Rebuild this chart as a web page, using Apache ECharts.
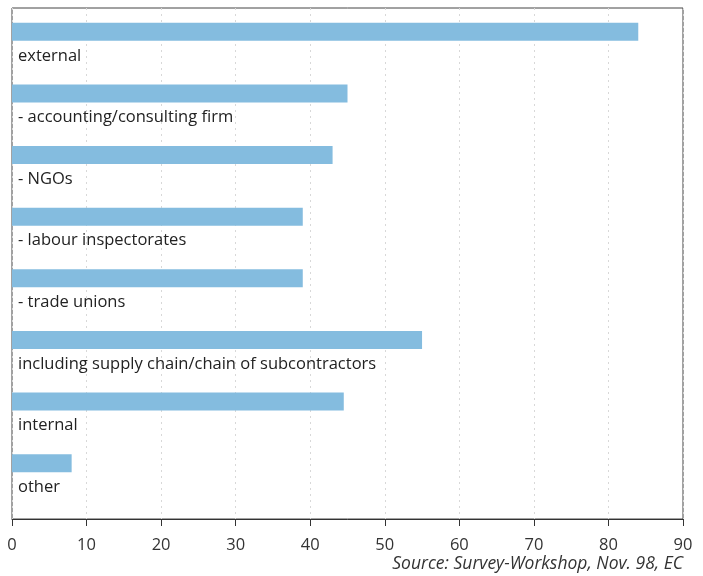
<!DOCTYPE html>
<html><head><meta charset="utf-8">
<script src="https://cdn.jsdelivr.net/npm/echarts@6/dist/echarts.min.js"></script>
<style>html,body{margin:0;padding:0;background:#fff}#c{width:703px;height:576px}</style>
</head><body><div id="c"></div>
<script>
var categories = ["external", "- accounting/consulting firm", "- NGOs", "- labour inspectorates", "- trade unions", "including supply chain/chain of subcontractors", "internal", "other"];
var values = [84, 45, 43, 39, 39, 55, 44.5, 8];
var xTicks = [0, 10, 20, 30, 40, 50, 60, 70, 80, 90];
var sourceText = "Source: Survey-Workshop, Nov. 98, EC";

var font = "'Open Sans', 'Noto Sans', sans-serif";
var chart = echarts.init(document.getElementById('c'));
chart.setOption({
  animation: false,
  backgroundColor: '#ffffff',
  grid: [
    {left: 12, top: 8, width: 671, height: 511, show: true, borderColor: '#444', borderWidth: 1, backgroundColor: 'transparent'},
    {left: 12, top: 1, width: 671, height: 493}
  ],
  xAxis: [
    {gridIndex: 0, type: 'value', min: xTicks[0], max: xTicks[xTicks.length-1], interval: 10,
     axisLine: {show: true, lineStyle: {color: '#333'}},
     axisTick: {show: true, length: 7, lineStyle: {color: '#333'}},
     axisLabel: {color: '#333', fontSize: 16.5, fontFamily: font, margin: 18},
     splitLine: {show: true, lineStyle: {color: '#d8d8d8', type: [2, 4]}}},
    {gridIndex: 1, type: 'value', min: 0, max: 90, show: false}
  ],
  yAxis: [
    {gridIndex: 0, type: 'value', show: false},
    {gridIndex: 1, type: 'category', data: categories, inverse: true, show: false}
  ],
  series: [{
    type: 'bar', xAxisIndex: 1, yAxisIndex: 1, data: values, barWidth: 18,
    itemStyle: {color: '#84bcdf'},
    label: {show: true, position: [6, 33], verticalAlign: 'middle', align: 'left',
      formatter: function(p){ return categories[p.dataIndex]; },
      color: '#222', fontSize: 16.5, fontFamily: font}
  }],
  graphic: [{type: 'text', right: 20, top: 555,
    style: {text: sourceText, fill: '#333', font: 'italic 17.5px ' + font, textAlign: 'right'}}]
});
</script></body></html>
